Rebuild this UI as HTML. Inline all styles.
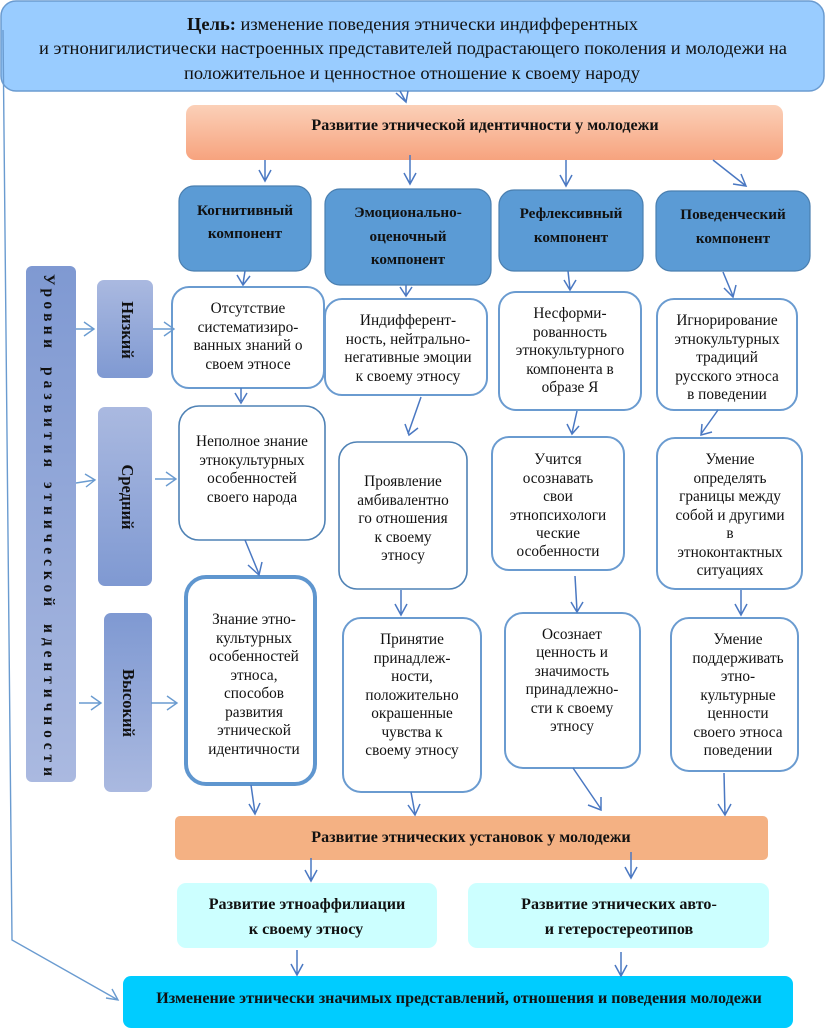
<!DOCTYPE html>
<html lang="ru"><head><meta charset="utf-8"><style>
html,body{margin:0;padding:0;background:#fff}
svg{display:block}
text{font-family:"Liberation Serif","DejaVu Serif",serif;text-anchor:middle;fill:#111}
.t{font-size:15.3px}
.b{font-size:15.2px;font-weight:bold}
.h{font-size:16.1px;font-weight:bold}
.v{font-size:16.5px;font-weight:bold}
.g{font-size:18.3px}
.w{fill:#fff;stroke:#6a9bd0;stroke-width:2}
.c{fill:#5b9bd5;stroke:#4a7fb0;stroke-width:1.2}
.a{fill:none;stroke:#4a78c2;stroke-width:1.5}
.l{fill:none;stroke:#6a9bd0;stroke-width:1.4}
.s{font-size:15.5px;font-weight:bold;text-anchor:start}
</style></head><body>
<svg width="825" height="1028" viewBox="0 0 825 1028" xmlns="http://www.w3.org/2000/svg">
<defs>
<linearGradient id="o" x1="0" y1="0" x2="0" y2="1"><stop offset="0" stop-color="#fbd0b8"/><stop offset="1" stop-color="#f7a37e"/></linearGradient>
<linearGradient id="d" x1="0" y1="0" x2="0" y2="1"><stop offset="0" stop-color="#aab9e0"/><stop offset="1" stop-color="#7f99d2"/></linearGradient>
<linearGradient id="u" x1="0" y1="0" x2="0" y2="1"><stop offset="0" stop-color="#7f99d2"/><stop offset="1" stop-color="#aab9e0"/></linearGradient>
</defs>
<rect width="825" height="1028" fill="#fff"/>

<rect x="1" y="1" width="823" height="90" rx="15" fill="#99ccff" stroke="#6a9bd0" stroke-width="1.5"/>
<text class="g" x="412.5" y="30" textLength="451" lengthAdjust="spacingAndGlyphs"><tspan font-weight="bold">Цель:</tspan> изменение поведения этнически индифферентных</text>
<text class="g" x="413" y="54" textLength="748" lengthAdjust="spacingAndGlyphs">и этнонигилистически настроенных представителей подрастающего поколения и молодежи на</text>
<text class="g" x="412" y="79" textLength="456" lengthAdjust="spacingAndGlyphs">положительное и ценностное отношение к своему народу</text>

<rect x="186" y="105" width="597" height="55" rx="9" fill="url(#o)"/>
<text class="h" x="485" y="130">Развитие этнической идентичности у молодежи</text>

<rect x="179" y="186" width="132" height="85" rx="15" class="c"/>
<text class="b" x="245" y="215">Когнитивный</text><text class="b" x="245" y="238">компонент</text>
<rect x="325" y="189" width="166" height="96" rx="15" class="c"/>
<text class="b" x="408" y="217">Эмоционально-</text><text class="b" x="408" y="241">оценочный</text><text class="b" x="408" y="264">компонент</text>
<rect x="499" y="190" width="144" height="81" rx="15" class="c"/>
<text class="b" x="571" y="218">Рефлексивный</text><text class="b" x="571" y="242">компонент</text>
<rect x="656" y="191" width="154" height="80" rx="15" class="c"/>
<text class="b" x="733" y="219">Поведенческий</text><text class="b" x="733" y="243">компонент</text>

<rect x="26" y="266" width="50" height="516" rx="6" fill="url(#u)"/>
<text class="s" transform="translate(44,274) rotate(90)" textLength="74">Уровни</text>
<text class="s" transform="translate(44,367) rotate(90)" textLength="100">развития</text>
<text class="s" transform="translate(44,482) rotate(90)" textLength="124">этнической</text>
<text class="s" transform="translate(44,624) rotate(90)" textLength="152">идентичности</text>
<rect x="97" y="280" width="56" height="98" rx="7" fill="url(#d)"/>
<text class="v" transform="translate(122,330) rotate(90)">Низкий</text>
<rect x="98" y="407" width="54" height="179" rx="7" fill="url(#d)"/>
<text class="v" transform="translate(122,497) rotate(90)">Средний</text>
<rect x="104" y="613" width="48" height="179" rx="7" fill="url(#u)"/>
<text class="v" transform="translate(123,703) rotate(90)">Высокий</text>

<rect x="172" y="287" width="152" height="101" rx="17" class="w"/>
<text class="t" x="248" y="313">Отсутствие</text><text class="t" x="248" y="332">систематизиро-</text><text class="t" x="248" y="350">ванных знаний о</text><text class="t" x="248" y="369">своем этносе</text>
<rect x="179" y="406" width="146" height="134" rx="20" fill="#fff" stroke="#4f82b5" stroke-width="1.6"/>
<text class="t" x="252" y="446">Неполное знание</text><text class="t" x="252" y="465">этнокультурных</text><text class="t" x="252" y="483">особенностей</text><text class="t" x="252" y="502">своего народа</text>
<rect x="186" y="577" width="129" height="207" rx="20" fill="#fff" stroke="#5f96cf" stroke-width="4"/>
<text class="t" x="254" y="624">Знание этно-</text><text class="t" x="254" y="643">культурных</text><text class="t" x="254" y="661">особенностей</text><text class="t" x="254" y="680">этноса,</text><text class="t" x="254" y="698">способов</text><text class="t" x="254" y="717">развития</text><text class="t" x="254" y="735">этнической</text><text class="t" x="254" y="754">идентичности</text>

<rect x="325" y="299" width="162" height="96" rx="17" class="w"/>
<text class="t" x="408" y="325">Индифферент-</text><text class="t" x="408" y="344">ность, нейтрально-</text><text class="t" x="408" y="362">негативные эмоции</text><text class="t" x="408" y="381">к своему этносу</text>
<rect x="339" y="442" width="128" height="147" rx="18" fill="#fff" stroke="#4f82b5" stroke-width="1.6"/>
<text class="t" x="403" y="486">Проявление</text><text class="t" x="403" y="505">амбивалентно</text><text class="t" x="403" y="523">го отношения</text><text class="t" x="403" y="542">к своему</text><text class="t" x="403" y="560">этносу</text>
<rect x="343" y="618" width="138" height="174" rx="18" class="w"/>
<text class="t" x="412" y="644">Принятие</text><text class="t" x="412" y="663">принадлеж-</text><text class="t" x="412" y="681">ности,</text><text class="t" x="412" y="700">положительно</text><text class="t" x="412" y="718">окрашенные</text><text class="t" x="412" y="737">чувства к</text><text class="t" x="412" y="755">своему этносу</text>

<rect x="499" y="292" width="142" height="118" rx="17" class="w"/>
<text class="t" x="570" y="318">Несформи-</text><text class="t" x="570" y="337">рованность</text><text class="t" x="570" y="355">этнокультурного</text><text class="t" x="570" y="374">компонента в</text><text class="t" x="570" y="392">образе Я</text>
<rect x="492" y="437" width="132" height="133" rx="17" class="w"/>
<text class="t" x="558" y="464">Учится</text><text class="t" x="558" y="483">осознавать</text><text class="t" x="558" y="501">свои</text><text class="t" x="558" y="520">этнопсихологи</text><text class="t" x="558" y="538">ческие</text><text class="t" x="558" y="556">особенности</text>
<rect x="505" y="613" width="135" height="155" rx="18" class="w"/>
<text class="t" x="572" y="639">Осознает</text><text class="t" x="572" y="657">ценность и</text><text class="t" x="572" y="676">значимость</text><text class="t" x="572" y="694">принадлежно-</text><text class="t" x="572" y="713">сти к своему</text><text class="t" x="572" y="731">этносу</text>

<rect x="657" y="299" width="140" height="111" rx="17" class="w"/>
<text class="t" x="727" y="325">Игнорирование</text><text class="t" x="727" y="344">этнокультурных</text><text class="t" x="727" y="362">традиций</text><text class="t" x="727" y="381">русского этноса</text><text class="t" x="727" y="399">в поведении</text>
<rect x="657" y="438" width="145" height="151" rx="18" class="w"/>
<text class="t" x="730" y="464">Умение</text><text class="t" x="730" y="483">определять</text><text class="t" x="730" y="501">границы между</text><text class="t" x="730" y="520">собой и другими</text><text class="t" x="730" y="538">в</text><text class="t" x="730" y="557">этноконтактных</text><text class="t" x="730" y="575">ситуациях</text>
<rect x="671" y="618" width="127" height="153" rx="18" class="w"/>
<text class="t" x="738" y="644">Умение</text><text class="t" x="738" y="663">поддерживать</text><text class="t" x="738" y="681">этно-</text><text class="t" x="738" y="700">культурные</text><text class="t" x="738" y="718">ценности</text><text class="t" x="738" y="737">своего этноса</text><text class="t" x="738" y="755">поведении</text>

<rect x="175" y="816" width="593" height="44" rx="5" fill="#f4b183"/>
<text class="h" x="471" y="842">Развитие этнических установок у молодежи</text>
<rect x="177" y="883" width="260" height="65" rx="9" fill="#ccffff"/>
<text class="h" x="307" y="909">Развитие этноаффилиации</text><text class="h" x="306" y="934">к своему этносу</text>
<rect x="468" y="883" width="301" height="65" rx="9" fill="#ccffff"/>
<text class="h" x="619" y="909">Развитие этнических авто-</text><text class="h" x="619" y="934">и гетеростереотипов</text>
<rect x="123" y="976" width="670" height="52" rx="8" fill="#00ccff"/>
<text class="h" x="459" y="1003">Изменение этнически значимых представлений, отношения и поведения молодежи</text>

<g class="a">
<path d="M400 91L406 102M396 93L406 102L408 91"/>
<path d="M265 160V181M259 170L265 181L271 170"/>
<path d="M410 155V184M404 173L410 184L416 173"/>
<path d="M566 160V186M560 175L566 186L572 175"/>
<path d="M713 160L746 186M733 184L746 186L741 174"/>
<path d="M245 271L243 284M237 275L243 285L250 276"/>
<path d="M406 285V296M400 287L406 296L412 287"/>
<path d="M568 271L570 289M564 280L570 290L576 280"/>
<path d="M723 272L733 296M724 288L733 297L736 285"/>
<path d="M241 388V401M235 393L241 403L247 393"/>
<path d="M421 397L408 434M405 424L409 435L418 428"/>
<path d="M577 411L572 433M567 424L572 434L579 426"/>
<path d="M718 410L701 434M702 424L701 435L712 432"/>
<path d="M245 540L259 574M248 565L259 575L262 562"/>
<path d="M401 590V615M395 604L401 615L407 604"/>
<path d="M575 576L577 611M571 602L577 612L583 602"/>
<path d="M741 590V615M735 604L741 615L747 604"/>
<path d="M251 785L255 813M249 804L255 814L260 803"/>
<path d="M411 792L415 814M408 805L415 815L420 804"/>
<path d="M573 768L601 809M588 805L601 810L601 797"/>
<path d="M724 773L725 815M718 804L725 815L731 804"/>
<path d="M311 858V881M305 870L311 881L317 870"/>
<path d="M631 852V878M625 867L631 878L637 867"/>
<path d="M297 950V975M291 964L297 975L303 964"/>
<path d="M621 952V976M615 965L621 976L627 965"/>
</g>
<g class="l">
<path d="M76 329H94M84 322L94 329L84 336"/>
<path d="M76 483L95 480M85 474L95 480L86 487"/>
<path d="M79 703H101M91 696L101 703L91 710"/>
<path d="M153 329H174M164 322L174 329L164 336"/>
<path d="M155 479H176M166 472L176 479L166 486"/>
<path d="M151 703H177M167 696L177 703L167 710"/>
<path d="M3 30L12 940L118 1000M106 998L118 1000L112 989"/>
</g>
</svg>
</body></html>
